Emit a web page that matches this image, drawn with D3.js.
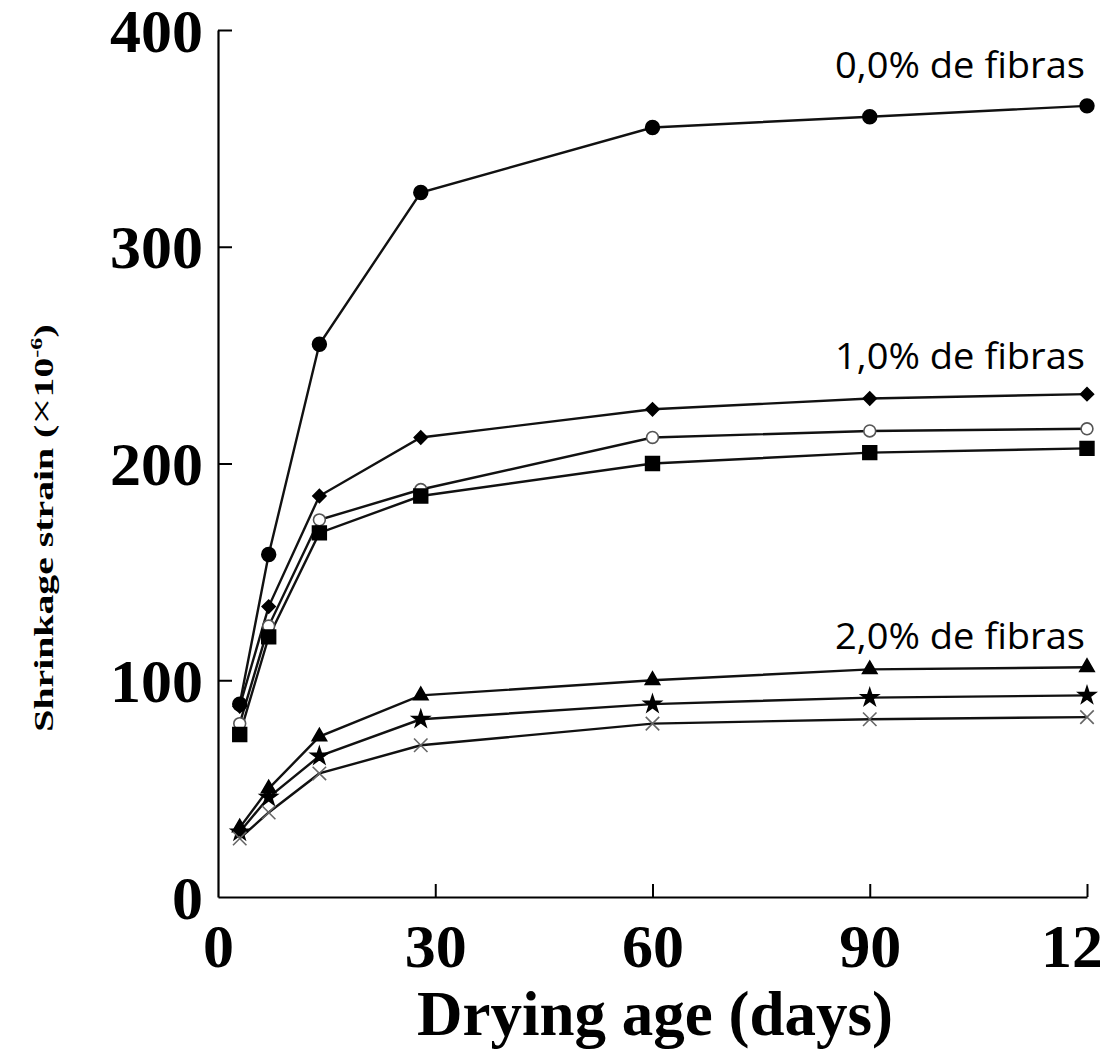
<!DOCTYPE html>
<html>
<head>
<meta charset="utf-8">
<script src="https://cdn.jsdelivr.net/npm/d3@7"></script>
<style>
  html, body { margin: 0; padding: 0; background: #fff; overflow: hidden; }
</style>
</head>
<body>
<div id="chart"></div>
<script>
const width = 1100;
const height = 1050;

// drying ages (days) where shrinkage was measured
const days = [3, 7, 14, 28, 60, 90, 120];

// shrinkage strain (x10^-6)
const plain = [89, 158, 255, 325, 355, 360, 365];        // 0,0% filled circle
const fib1a = [88, 134, 185, 212, 225, 230, 232];        // 1,0% diamond
const fib1b = [80, 125, 174, 188, 212, 215, 216];        // 1,0% open circle
const fib1c = [75, 120, 168, 185, 200, 205, 207];        // 1,0% square
const fib2a = [32, 50, 74, 93, 100, 105, 106];           // 2,0% triangle
const fib2b = [30, 46, 65, 82, 89, 92, 93];              // 2,0% star
const fib2c = [27, 39, 57, 70, 80, 82, 83];              // 2,0% cross

const xTicks = [0, 30, 60, 90, 120];
const yTicks = [0, 100, 200, 300, 400];

const groupLabels = ["0,0% de fibras", "1,0% de fibras", "2,0% de fibras"];
const groupLabelValues = [378, 243.5, 114.5];

const series = [
  { values: plain, symbol: d3.symbolCircle, size: 150, rot: 0, fill: "#000", stroke: "#000" },
  { values: fib1a, symbol: d3.symbolSquare, size: 85, rot: 45, fill: "#000", stroke: "#000" },
  { values: fib1b, symbol: d3.symbolCircle, size: 110, rot: 0, fill: "#fff", stroke: "#555" },
  { values: fib1c, symbol: d3.symbolSquare, size: 190, rot: 0, fill: "#000", stroke: "#000" },
  { values: fib2a, symbol: d3.symbolTriangle, size: 90, rot: 0, fill: "#000", stroke: "#000" },
  { values: fib2b, symbol: d3.symbolStar, size: 90, rot: 0, fill: "#000", stroke: "#000" },
  { values: fib2c, symbol: d3.symbolTimes, size: 120, rot: 0, fill: "none", stroke: "#666" }
];

const x = d3.scaleLinear().domain([0, 120]).range([218, 1087]);
const y = d3.scaleLinear().domain([0, 400]).range([897, 30]);

const svg = d3.select("#chart")
  .append("svg")
  .attr("width", width)
  .attr("height", height)
  .style("font-family", "'Liberation Serif', 'Times New Roman', serif");

// y axis, ticks pointing inward
const yAxis = svg.append("g")
  .attr("transform", `translate(${x(0)},0)`)
  .call(d3.axisLeft(y).tickValues(yTicks).tickSizeInner(-14).tickSizeOuter(0).tickPadding(15));
yAxis.select(".domain").attr("stroke-width", 2.2);
yAxis.selectAll(".tick line").attr("stroke-width", 2).filter(d => d === 0).remove();
yAxis.selectAll(".tick text")
  .attr("font-size", 62).attr("font-weight", "bold").attr("font-family", "'Liberation Serif', serif")
  .attr("dy", "0.34em");

// x axis, ticks pointing up
const xAxis = svg.append("g")
  .attr("transform", `translate(0,${y(0)})`)
  .call(d3.axisBottom(x).tickValues(xTicks).tickSizeInner(-13).tickSizeOuter(0).tickPadding(26));
xAxis.select(".domain").attr("stroke-width", 2.2);
xAxis.selectAll(".tick line").attr("stroke-width", 2).filter(d => d === 0).remove();
xAxis.selectAll(".tick text")
  .attr("font-size", 62).attr("font-weight", "bold").attr("font-family", "'Liberation Serif', serif");

// axis titles
svg.append("text")
  .attr("x", 655).attr("y", 1035)
  .attr("text-anchor", "middle")
  .attr("font-size", 63).attr("font-weight", "bold")
  .text("Drying age (days)");

const yTitle = svg.append("text")
  .attr("transform", `translate(53,528) rotate(-90) scale(1.42,1)`)
  .attr("text-anchor", "middle")
  .attr("font-size", 28).attr("font-weight", "bold");
yTitle.append("tspan").text("Shrinkage strain (");
yTitle.append("tspan").attr("font-size", 34).attr("font-weight", "normal").text("\u00d7");
yTitle.append("tspan").text("10");
yTitle.append("tspan").attr("dy", -11).attr("font-size", 17).text("-6");
yTitle.append("tspan").attr("dy", 11).text(")");

// lines
const line = d3.line()
  .x((d, i) => x(days[i]))
  .y(d => y(d));

svg.selectAll("path.series")
  .data(series)
  .enter()
  .append("path")
  .attr("class", "series")
  .attr("d", d => line(d.values))
  .attr("fill", "none")
  .attr("stroke", "#111")
  .attr("stroke-width", 2.4);

// markers
series.forEach(s => {
  const sym = d3.symbol().type(s.symbol).size(s.size);
  svg.append("g")
    .selectAll("path")
    .data(s.values)
    .enter()
    .append("path")
    .attr("transform", (d, i) => `translate(${x(days[i])},${y(d)}) rotate(${s.rot})`)
    .attr("d", sym)
    .attr("fill", s.fill)
    .attr("stroke", s.stroke)
    .attr("stroke-width", 1.6);
});

// group labels
svg.selectAll("text.group")
  .data(groupLabels)
  .enter()
  .append("text")
  .attr("class", "group")
  .attr("x", 1085)
  .attr("y", (d, i) => y(groupLabelValues[i]))
  .attr("text-anchor", "end")
  .attr("font-family", "'Open Sans', 'Noto Sans', sans-serif")
  .attr("font-size", 36)
  .attr("textLength", 250)
  .attr("lengthAdjust", "spacingAndGlyphs")
  .text(d => d);
</script>
</body>
</html>
